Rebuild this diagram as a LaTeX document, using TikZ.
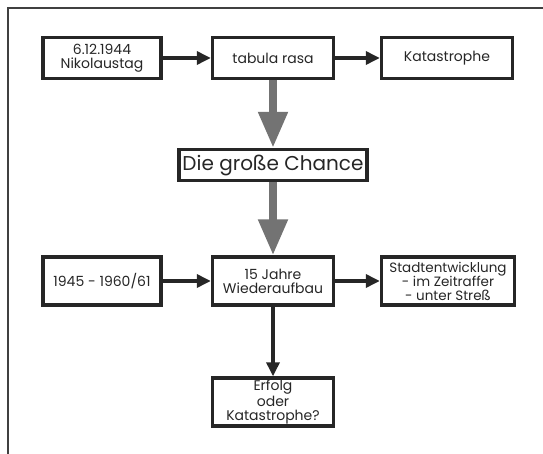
\documentclass[tikz,border=0pt]{standalone}
\usepackage{fontspec}
\setmainfont{Poppins}
\usetikzlibrary{arrows.meta}

\tikzset{
  box/.style={draw=black!85, line width=3.4pt, minimum height=41pt, inner sep=1pt,
    align=center, text=black!85, font=\fontsize{14}{14}\selectfont},
  pfeil/.style={draw=black!85, line width=3.4pt, -{Triangle[width=13pt,length=14pt]}},
  grau/.style={draw=black!55, line width=8pt, -{Triangle[width=28pt,length=36pt]}},
}

\begin{document}
\begin{tikzpicture}[x=1pt,y=-1pt]
\useasboundingbox (0,0) rectangle (543,454);
\draw[line width=1.4pt, black!75] (8,454) -- (8,8) -- (543,8);

\node[box, minimum width=118pt] at (102,58) (datum) {6.12.1944\\Nikolaustag};
\node[box, minimum width=121pt] at (273,58) (tabula) {tabula rasa};
\node[box, minimum width=131pt] at (447,58) (kata) {Katastrophe};

\node[box, minimum width=188pt, minimum height=31pt, font=\fontsize{20}{20}\selectfont] at (273,165) (chance) {Die große Chance};

\node[box, minimum width=118pt, minimum height=48pt] at (102,281) (zeit) {1945 - 1960/61};
\node[box, minimum width=121pt, minimum height=48pt] at (273,281) (aufbau) {15 Jahre\\Wiederaufbau};
\node[box, minimum width=133pt, minimum height=48pt, font=\fontsize{13.5}{14}\selectfont] at (448,281) (stadt) {Stadtentwicklung\\- im Zeitraffer\\- unter Streß};

\node[box, minimum width=121pt, minimum height=48pt] at (273,402) (erfolg) {Erfolg\\oder\\Katastrophe?};

\draw[pfeil] (datum) -- (tabula);
\draw[pfeil] (tabula) -- (kata);
\draw[grau] (tabula) -- (chance);
\draw[grau] (chance) -- (aufbau);
\draw[pfeil] (zeit) -- (aufbau);
\draw[pfeil] (aufbau) -- (stadt);
\draw[pfeil] (aufbau) -- (erfolg);
\end{tikzpicture}
\end{document}
